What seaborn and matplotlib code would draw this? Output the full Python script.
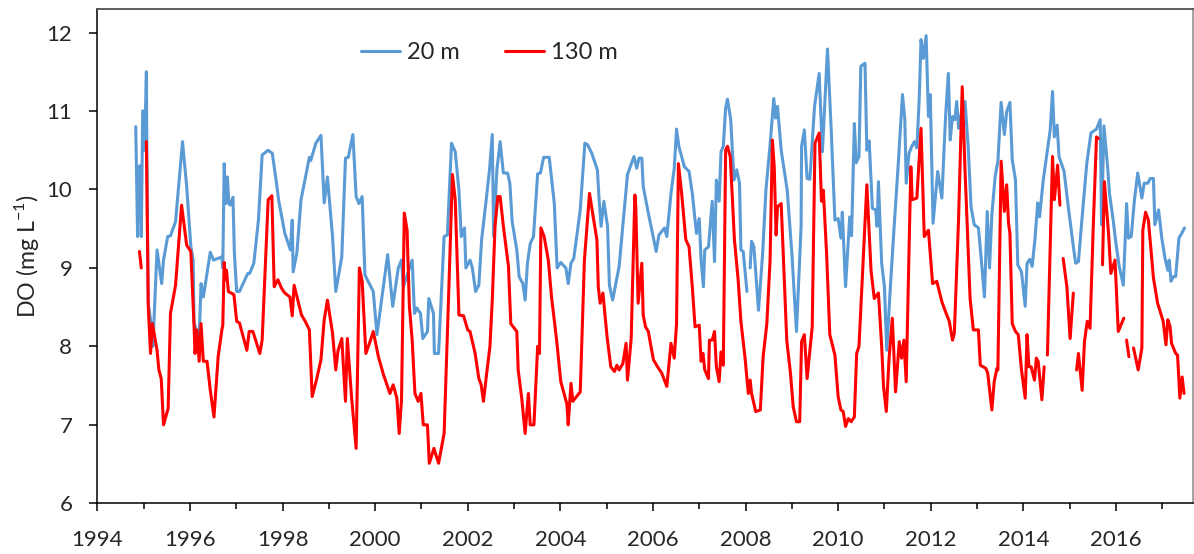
import numpy as np
import pandas as pd
import matplotlib
matplotlib.use("Agg")
import matplotlib.pyplot as plt
import seaborn as sns

nan = np.nan

# 20 m series (decimal year, DO mg/L), NaN = gap in the record
year_20 = [
    1994.83, 1994.87, 1994.91, 1994.94, 1994.95, 1994.98, 1995.01, 1995.02, 1995.06, 1995.07,
    1995.10, 1995.16, 1995.20, 1995.29, 1995.39, 1995.43, 1995.52, 1995.58, 1995.69, 1995.84,
    1995.93, 1996.02, 1996.07, 1996.09, 1996.20, 1996.24, 1996.29, 1996.44, 1996.51, 1996.69,
    1996.71, 1996.74, 1996.77, 1996.81, 1996.84, 1996.87, 1996.93, 1996.96, 1997.01, 1997.07,
    1997.25, 1997.29, 1997.38, 1997.48, 1997.56, 1997.69, 1997.78, 1997.87, 1997.92, 1998.05,
    1998.17, 1998.21, 1998.23, 1998.31, 1998.40, 1998.49, 1998.58, 1998.61, 1998.72, 1998.83,
    1998.90, 1998.97, 1999.08, 1999.15, 1999.28, 1999.36, 1999.42, 1999.52, 1999.59, 1999.65,
    1999.72, 1999.78, 1999.96, 2000.04, 2000.16, 2000.27, 2000.38, 2000.50, 2000.57, 2000.61,
    2000.80, 2000.85, 2000.90, 2000.98, 2001.03, 2001.13, 2001.16, 2001.26, 2001.28, 2001.37,
    2001.49, 2001.56, 2001.65, 2001.73, 2001.81, 2001.86, 2001.93, 2001.96, 2002.05, 2002.10,
    2002.17, 2002.24, 2002.30, 2002.39, 2002.47, 2002.53, 2002.56, 2002.63, 2002.70, 2002.77,
    2002.86, 2002.91, 2002.96, 2003.06, 2003.11, 2003.19, 2003.24, 2003.29, 2003.35, 2003.42,
    2003.51, 2003.57, 2003.64, 2003.76, 2003.87, 2003.93, 2004.01, 2004.12, 2004.17, 2004.23,
    2004.29, 2004.43, 2004.53, 2004.59, 2004.68, 2004.80, 2004.84, 2004.88, 2004.94, 2005.02,
    2005.06, 2005.13, 2005.27, 2005.45, 2005.59, 2005.65, 2005.70, 2005.76, 2005.79, 2005.90,
    2005.99, 2006.07, 2006.13, 2006.25, 2006.30, 2006.39, 2006.46, 2006.51, 2006.56, 2006.68,
    2006.78, 2006.85, 2006.94, 2007.00, 2007.04, 2007.09, 2007.12, 2007.20, 2007.28, 2007.33,
    2007.37, 2007.43, 2007.47, 2007.52, 2007.57, 2007.61, 2007.68, 2007.75, 2007.81, 2007.87,
    2007.90, 2007.95, 2008.03, 2008.06, 2008.10, 2008.13, 2008.18, 2008.28, 2008.37, 2008.44,
    2008.53, 2008.61, 2008.65, 2008.69, 2008.77, 2008.90, 2009.00, 2009.10, 2009.20, 2009.21,
    2009.27, 2009.33, 2009.39, 2009.49, 2009.59, 2009.66, 2009.77, 2009.85, 2009.93, 2010.00,
    2010.06, 2010.09, 2010.16, 2010.25, 2010.29, 2010.35, 2010.39, 2010.45, 2010.49, 2010.58,
    2010.62, 2010.67, 2010.74, 2010.81, 2010.84, 2010.87, 2010.94, 2011.00, 2011.05, 2011.12,
    2011.20, 2011.29, 2011.39, 2011.44, 2011.47, 2011.53, 2011.59, 2011.65, 2011.70, 2011.75,
    2011.79, 2011.84, 2011.90, 2011.95, 2011.99, 2012.05, 2012.15, 2012.24, 2012.32, 2012.38,
    2012.42, 2012.47, 2012.52, 2012.56, 2012.60, 2012.67, 2012.74, 2012.81, 2012.87, 2012.94,
    2013.03, 2013.09, 2013.16, 2013.22, 2013.27, 2013.32, 2013.39, 2013.45, 2013.52, 2013.59,
    2013.64, 2013.71, 2013.76, 2013.83, 2013.88, 2013.96, 2014.04, 2014.08, 2014.14, 2014.19,
    2014.25, 2014.31, 2014.35, 2014.43, 2014.51, 2014.58, 2014.63, 2014.67, 2014.73, 2014.77,
    2014.88, 2014.97, 2015.08, 2015.13, 2015.19, 2015.27, 2015.37, 2015.46, 2015.58, 2015.66,
    2015.69, 2015.74, 2015.82, 2015.86, 2015.94, 2015.99, 2016.07, 2016.16, 2016.23, 2016.27,
    2016.33, 2016.40, 2016.47, 2016.56, 2016.61, 2016.69, 2016.74, 2016.81, 2016.84, 2016.92,
    2016.99, 2017.06, 2017.12, 2017.15, 2017.19, 2017.24, 2017.29, 2017.36, 2017.42, 2017.48,
]
do_20 = [
    10.80, 9.40, 10.30, 10.30, 9.40, 11.00, 11.00, 10.50, 11.50, 10.50,
    8.55, 8.29, 8.00, 9.23, 8.80, 9.10, 9.40, 9.41, 9.59, 10.61,
    10.04, 9.27, 9.10, 8.30, 8.10, 8.80, 8.63, 9.20, 9.10, 9.14,
    9.00, 10.33, 9.82, 10.16, 9.82, 9.80, 9.90, 9.19, 8.70, 8.70,
    8.93, 8.93, 9.06, 9.61, 10.44, 10.50, 10.46, 10.08, 9.85, 9.44,
    9.23, 9.61, 8.95, 9.19, 9.87, 10.14, 10.41, 10.37, 10.59, 10.69,
    9.83, 10.16, 9.40, 8.70, 9.14, 10.40, 10.41, 10.70, 9.91, 9.82,
    9.91, 8.91, 8.70, 8.15, 8.68, 9.17, 8.51, 9.00, 9.10, 8.76,
    9.10, 8.42, 8.49, 8.42, 8.10, 8.19, 8.61, 8.42, 7.91, 7.91,
    9.40, 9.42, 10.59, 10.48, 9.99, 9.40, 9.51, 9.00, 9.10, 9.00,
    8.70, 8.78, 9.36, 9.82, 10.25, 10.70, 9.40, 10.25, 10.61, 10.21,
    10.21, 10.08, 9.59, 9.23, 8.89, 8.80, 8.59, 9.06, 9.31, 9.40,
    10.20, 10.21, 10.41, 10.41, 9.82, 9.00, 9.07, 9.00, 8.80, 9.06,
    9.12, 9.74, 10.59, 10.57, 10.46, 10.25, 9.85, 9.53, 9.85, 9.53,
    8.78, 8.59, 9.02, 10.19, 10.42, 10.27, 10.40, 10.40, 10.04, 9.70,
    9.44, 9.21, 9.42, 9.51, 9.40, 9.95, 10.27, 10.77, 10.55, 10.29,
    10.23, 9.95, 9.44, 9.63, 9.10, 8.76, 9.23, 9.27, 9.85, 9.08,
    10.12, 9.85, 10.48, 10.55, 11.04, 11.15, 10.89, 10.12, 10.25, 10.08,
    9.23, 9.21, 8.70, nan, 9.00, 9.34, 9.27, 8.46, 9.19, 9.99,
    10.57, 11.16, 10.91, 11.06, 10.50, 9.99, 9.19, 8.19, 9.53, 10.55,
    10.76, 10.14, 10.13, 11.06, 11.48, 10.48, 11.79, 10.76, 9.61, 9.63,
    9.38, 9.71, 8.76, 9.65, 9.41, 10.84, 10.34, 10.42, 11.57, 11.61,
    10.50, 10.62, 9.76, 9.74, 9.53, 10.10, 9.06, 8.76, 7.95, 8.68,
    9.44, 10.25, 11.21, 10.89, 10.08, 10.46, 10.55, 10.61, 10.53, 11.14,
    11.91, 11.67, 11.96, 10.93, 11.21, 9.57, 10.23, 9.89, 10.93, 11.48,
    10.63, 10.93, 10.89, 11.12, 10.78, 11.01, 11.12, 10.53, 9.78, 9.55,
    9.51, 9.12, 8.63, 9.72, 9.00, 9.68, 10.16, 10.36, 11.11, 10.70,
    10.99, 11.11, 10.38, 10.12, 9.04, 8.95, 8.51, 9.06, 9.11, 9.02,
    9.36, 9.83, 9.65, 10.12, 10.46, 10.76, 11.25, 10.67, 10.82, 10.42,
    10.23, 9.78, 9.27, 9.06, 9.08, 9.65, 10.33, 10.72, 10.77, 10.89,
    9.55, 10.81, 10.29, 9.95, 9.61, 9.36, 9.02, 8.78, 9.82, 9.38,
    9.40, 9.87, 10.21, 9.89, 10.08, 10.08, 10.14, 10.14, 9.55, 9.74,
    9.38, 9.12, 8.97, 9.10, 8.83, 8.89, 8.89, 9.38, 9.44, 9.51,
]

# 130 m series
year_130 = [
    1994.91, 1994.95, 1995.00, 1995.06, 1995.10, 1995.15, 1995.19, 1995.29, 1995.33, 1995.38,
    1995.43, 1995.53, 1995.58, 1995.69, 1995.82, 1995.93, 1996.02, 1996.09, 1996.11, 1996.15,
    1996.20, 1996.24, 1996.29, 1996.37, 1996.44, 1996.52, 1996.61, 1996.69, 1996.71, 1996.74,
    1996.77, 1996.79, 1996.83, 1996.95, 1997.01, 1997.07, 1997.23, 1997.28, 1997.36, 1997.51,
    1997.56, 1997.69, 1997.77, 1997.82, 1997.90, 1997.98, 1998.05, 1998.16, 1998.21, 1998.25,
    1998.33, 1998.41, 1998.49, 1998.58, 1998.64, 1998.74, 1998.83, 1998.90, 1998.97, 1999.08,
    1999.15, 1999.20, 1999.28, 1999.36, 1999.40, 1999.49, 1999.59, 1999.66, 1999.72, 1999.80,
    1999.89, 1999.96, 2000.07, 2000.18, 2000.32, 2000.39, 2000.47, 2000.52, 2000.57, 2000.63,
    2000.69, 2000.74, 2000.80, 2000.86, 2000.93, 2000.99, 2001.04, 2001.13, 2001.17, 2001.27,
    2001.37, 2001.49, 2001.58, 2001.67, 2001.73, 2001.81, 2001.91, 2002.00, 2002.05, 2002.16,
    2002.24, 2002.29, 2002.34, 2002.41, 2002.48, 2002.53, 2002.59, 2002.65, 2002.70, 2002.77,
    2002.88, 2002.93, 2003.06, 2003.09, 2003.17, 2003.24, 2003.31, 2003.35, 2003.43, 2003.51,
    2003.55, 2003.58, 2003.65, 2003.74, 2003.81, 2003.92, 2004.01, 2004.14, 2004.17, 2004.23,
    2004.27, 2004.43, 2004.52, 2004.63, 2004.71, 2004.79, 2004.82, 2004.86, 2004.92, 2005.01,
    2005.09, 2005.17, 2005.22, 2005.27, 2005.35, 2005.42, 2005.45, 2005.53, 2005.61, 2005.63,
    2005.68, 2005.76, 2005.79, 2005.84, 2005.90, 2006.01, 2006.10, 2006.19, 2006.30, 2006.39,
    2006.46, 2006.51, 2006.55, 2006.62, 2006.71, 2006.78, 2006.85, 2006.91, 2007.00, 2007.04,
    2007.08, 2007.12, 2007.20, 2007.22, 2007.28, 2007.33, 2007.37, 2007.43, 2007.47, 2007.52,
    2007.57, 2007.61, 2007.67, 2007.76, 2007.84, 2007.90, 2007.99, 2008.06, 2008.10, 2008.13,
    2008.22, 2008.32, 2008.38, 2008.46, 2008.53, 2008.58, 2008.62, 2008.66, 2008.69, 2008.77,
    2008.89, 2008.97, 2009.03, 2009.10, 2009.17, 2009.21, 2009.27, 2009.33, 2009.41, 2009.44,
    2009.50, 2009.59, 2009.64, 2009.68, 2009.75, 2009.82, 2009.93, 2010.00, 2010.06, 2010.11,
    2010.16, 2010.22, 2010.28, 2010.35, 2010.40, 2010.45, 2010.54, 2010.62, 2010.71, 2010.78,
    2010.87, 2010.94, 2010.98, 2011.04, 2011.10, 2011.17, 2011.24, 2011.32, 2011.37, 2011.42,
    2011.47, 2011.57, 2011.60, 2011.70, 2011.79, 2011.86, 2011.95, 2012.04, 2012.13, 2012.24,
    2012.32, 2012.40, 2012.47, 2012.51, 2012.60, 2012.68, 2012.74, 2012.85, 2012.92, 2013.03,
    2013.07, 2013.19, 2013.23, 2013.32, 2013.37, 2013.43, 2013.45, 2013.52, 2013.59, 2013.64,
    2013.68, 2013.71, 2013.76, 2013.83, 2013.89, 2013.96, 2014.04, 2014.08, 2014.12, 2014.17,
    2014.24, 2014.28, 2014.32, 2014.40, 2014.45, 2014.48, 2014.52, 2014.63, 2014.67, 2014.74,
    2014.79, 2014.82, 2014.86, 2014.94, 2015.01, 2015.08, 2015.12, 2015.15, 2015.19, 2015.27,
    2015.32, 2015.38, 2015.44, 2015.51, 2015.58, 2015.62, 2015.66, 2015.71, 2015.75, 2015.84,
    2015.89, 2015.98, 2016.05, 2016.17, 2016.20, 2016.23, 2016.28, 2016.33, 2016.38, 2016.48,
    2016.56, 2016.58, 2016.64, 2016.70, 2016.81, 2016.90, 2017.02, 2017.08, 2017.12, 2017.17,
    2017.20, 2017.29, 2017.33, 2017.38, 2017.43, 2017.47,
]
do_130 = [
    9.21, 9.00, nan, 10.61, 8.51, 7.91, 8.29, 7.95, 7.70, 7.59,
    7.00, 7.21, 8.42, 8.78, 9.80, 9.29, 9.21, 8.25, 7.91, 8.21,
    7.81, 8.29, 7.81, 7.81, 7.44, 7.10, 7.87, 8.21, 8.27, 9.07,
    8.85, 8.97, 8.70, 8.66, 8.32, 8.30, 7.95, 8.19, 8.19, 7.91,
    8.08, 9.87, 9.92, 8.76, 8.85, 8.74, 8.68, 8.63, 8.39, 8.78,
    8.59, 8.40, 8.32, 8.21, 7.36, 7.59, 7.83, 8.34, 8.59, 8.17,
    7.70, 7.95, 8.10, 7.30, 8.10, 7.36, 6.70, 9.00, 8.83, 7.91,
    8.06, 8.19, 7.87, 7.64, 7.40, 7.51, 7.34, 6.89, 7.32, 9.70,
    9.48, 8.51, 8.08, 7.40, 7.30, 7.40, 7.00, 7.00, 6.51, 6.70,
    6.51, 6.89, 8.51, 10.19, 9.87, 8.40, 8.39, 8.21, 8.19, 7.91,
    7.59, 7.51, 7.30, 7.66, 8.00, 8.59, 9.53, 9.91, 9.91, 9.53,
    9.02, 8.29, 8.19, 7.70, 7.32, 6.89, 7.40, 7.00, 7.00, 8.00,
    7.91, 9.51, 9.40, 9.10, 8.63, 8.08, 7.55, 7.27, 7.00, 7.53,
    7.30, 7.42, 9.10, 9.95, 9.65, 9.36, 8.76, 8.55, 8.68, 8.12,
    7.74, 7.68, 7.76, 7.70, 7.78, 8.04, 7.57, 8.10, 9.93, 9.78,
    8.55, 9.06, 8.40, 8.25, 8.19, 7.83, 7.74, 7.66, 7.49, 8.04,
    7.85, 8.29, 10.33, 9.95, 9.36, 9.27, 8.76, 8.25, 8.27, 7.81,
    7.91, 7.70, 7.59, 8.08, 8.08, 8.19, 7.74, 7.55, 7.93, 7.76,
    10.50, 10.55, 10.42, 9.36, 8.85, 8.32, 7.85, 7.40, 7.57, 7.40,
    7.17, 7.19, 7.87, 8.29, 9.10, 10.63, 10.29, 9.42, 9.78, 9.82,
    8.08, 7.66, 7.23, 7.04, 7.04, 8.06, 8.15, 7.59, 8.08, 8.25,
    10.59, 10.72, 9.85, 9.99, 9.19, 8.15, 7.89, 7.36, 7.19, 7.17,
    6.98, 7.08, 7.04, 7.10, 7.91, 8.00, 9.10, 10.06, 8.97, 8.61,
    8.68, 8.00, 7.49, 7.17, 7.85, 8.36, 7.42, 8.06, 7.85, 8.08,
    7.55, 10.29, 9.87, 9.89, 10.78, 9.40, 9.48, 8.80, 8.83, 8.57,
    8.44, 8.32, 8.08, 8.17, 9.61, 11.31, 10.25, 8.61, 8.21, 8.21,
    7.76, 7.72, 7.66, 7.19, 7.55, 7.72, 7.70, 10.36, 9.72, 10.06,
    9.57, 9.44, 8.29, 8.19, 8.15, 7.70, 7.34, 8.15, 7.74, 7.74,
    7.57, 7.85, 7.81, 7.32, 7.74, nan, 7.89, 10.42, 9.87, 10.31,
    9.80, nan, 9.12, 8.76, 8.10, 8.68, nan, 7.70, 7.91, 7.44,
    8.06, 8.32, 8.23, 9.53, 10.67, 10.65, nan, 9.04, 10.10, 9.44,
    8.93, 9.10, 8.19, 8.36, nan, 8.08, 7.87, nan, 7.98, 7.70,
    7.98, 9.48, 9.71, 9.61, 8.87, 8.55, 8.32, 8.02, 8.34, 8.25,
    8.04, 7.91, 7.89, 7.34, 7.61, 7.40,
]

depths = ["20 m", "130 m"]
colors = {"20 m": "#5B9BD5", "130 m": "#FF0000"}


def to_frame(years, values, label):
    d = pd.DataFrame({"Year": years, "DO": values})
    d["Depth"] = label
    # break the line where the record has gaps
    d["Segment"] = label + "_" + d["DO"].isna().cumsum().astype(str)
    return d.dropna()


df = pd.concat([to_frame(year_20, do_20, "20 m"), to_frame(year_130, do_130, "130 m")])

sns.set_style("ticks")
plt.rcParams["font.family"] = ["Lato", "DejaVu Sans"]
plt.rcParams["axes.edgecolor"] = "black"

fig = plt.figure(figsize=(11.94, 5.54), dpi=100)
ax = fig.add_axes([0.0815, 0.0915, 0.9177, 0.8922])

sns.lineplot(
    data=df, x="Year", y="DO", hue="Depth", units="Segment", estimator=None,
    hue_order=depths, palette=colors, sort=False, lw=2.2, ax=ax,
)

ax.set_xlim(1994, 2017.665)
ax.set_ylim(6, 12.3)
ax.set_xticks(np.arange(1994, 2017, 2))
ax.set_xticks(np.arange(1995, 2018, 2), minor=True)
ax.set_yticks(np.arange(6, 13, 1))
ax.set_xlabel("")
ax.set_ylabel("DO (mg L$^{\\mathregular{-1}}$)", fontsize=16.7, labelpad=4)
ax.tick_params(axis="both", which="major", labelsize=16, direction="out", width=1.1, color="black")
ax.tick_params(axis="x", which="major", length=5.5, pad=14)
ax.tick_params(axis="x", which="minor", length=4.5, width=1.1, color="black")
ax.tick_params(axis="y", which="major", length=6, pad=12)

for side in ["left", "bottom"]:
    ax.spines[side].set_linewidth(1.1)
    ax.spines[side].set_color("black")
ax.spines["top"].set_color("#505050")
ax.spines["top"].set_linewidth(1.3)
ax.spines["right"].set_color("#9a9a9a")
ax.spines["right"].set_linewidth(1.3)

sns.move_legend(
    ax, "center", bbox_to_anchor=(0.41, 0.905), bbox_transform=fig.transFigure,
    ncol=2, title=None, frameon=False, fontsize=17,
    handlelength=1.65, handletextpad=0.3, columnspacing=1.9,
)
for h in ax.get_legend().legend_handles:
    h.set_linewidth(2.2)

fig.savefig("out.png", dpi=100)
